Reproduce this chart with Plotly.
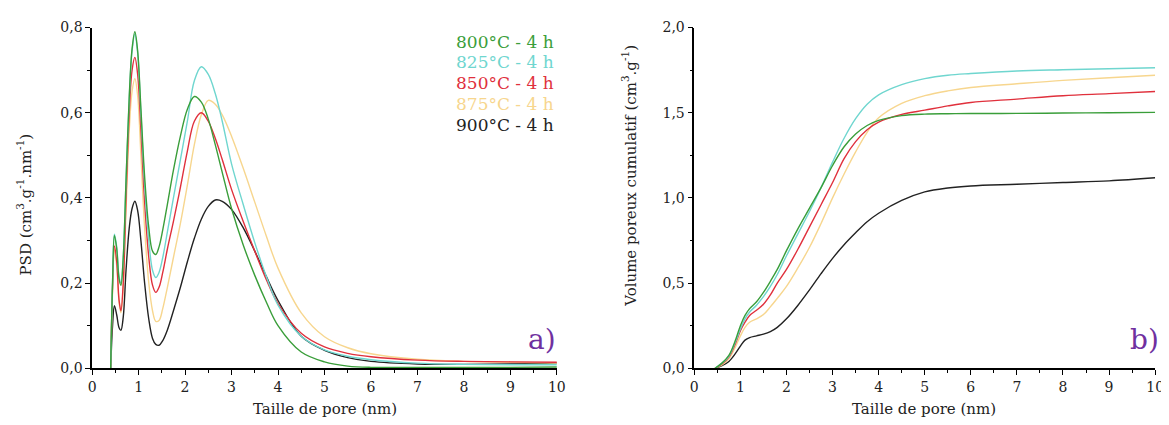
import plotly.graph_objects as go

# ---------- data ----------
series_names = ["800°C - 4 h", "825°C - 4 h", "850°C - 4 h", "875°C - 4 h", "900°C - 4 h"]
series_colors = ["#3a9e3a", "#6fd6cf", "#e0303c", "#f7d68e", "#222222"]

psd_x = [0.40, 0.44, 0.48, 0.53, 0.58, 0.62, 0.67, 0.73, 0.80, 0.86, 0.92, 0.98, 1.05, 1.13,
         1.22, 1.30, 1.37, 1.44, 1.52, 1.62, 1.75, 1.90, 2.05, 2.20, 2.35, 2.50, 2.65, 2.80,
         3.00, 3.25, 3.50, 3.75, 4.00, 4.50, 5.00, 5.50, 6.00, 7.00, 8.00, 9.00, 10.0]

psd_800 = [0, 0.20, 0.312, 0.28, 0.21, 0.195, 0.26, 0.44, 0.64, 0.75, 0.79, 0.745, 0.61, 0.45,
           0.33, 0.275, 0.267, 0.285, 0.325, 0.385, 0.465, 0.545, 0.608, 0.638, 0.625, 0.585, 0.525, 0.46,
           0.375, 0.29, 0.218, 0.155, 0.10, 0.038, 0.015, 0.005, 0.002, 0.002, 0.002, 0.002, 0.003]
psd_825 = [0, 0.20, 0.315, 0.285, 0.215, 0.20, 0.26, 0.44, 0.635, 0.745, 0.785, 0.74, 0.60, 0.43,
           0.30, 0.23, 0.213, 0.225, 0.26, 0.32, 0.40, 0.49, 0.58, 0.675, 0.708, 0.69, 0.645, 0.58,
           0.48, 0.385, 0.295, 0.215, 0.148, 0.075, 0.043, 0.028, 0.020, 0.012, 0.009, 0.008, 0.008]
psd_850 = [0, 0.19, 0.287, 0.25, 0.16, 0.135, 0.20, 0.40, 0.60, 0.70, 0.73, 0.69, 0.56, 0.39,
           0.26, 0.195, 0.178, 0.19, 0.225, 0.28, 0.345, 0.425, 0.51, 0.58, 0.60, 0.58, 0.54, 0.49,
           0.42, 0.345, 0.275, 0.208, 0.152, 0.082, 0.050, 0.035, 0.027, 0.019, 0.016, 0.015, 0.014]
psd_875 = [0, 0.18, 0.28, 0.24, 0.155, 0.13, 0.19, 0.37, 0.56, 0.65, 0.68, 0.64, 0.50, 0.33,
           0.20, 0.135, 0.11, 0.112, 0.14, 0.19, 0.26, 0.34, 0.43, 0.525, 0.595, 0.629, 0.62, 0.595,
           0.545, 0.47, 0.39, 0.31, 0.235, 0.13, 0.074, 0.048, 0.034, 0.021, 0.016, 0.014, 0.012]
psd_900 = [0, 0.10, 0.147, 0.125, 0.095, 0.089, 0.12, 0.23, 0.33, 0.375, 0.392, 0.37, 0.30, 0.20,
           0.115, 0.07, 0.056, 0.054, 0.065, 0.09, 0.135, 0.19, 0.25, 0.305, 0.35, 0.38, 0.395, 0.392,
           0.373, 0.33, 0.275, 0.215, 0.159, 0.075, 0.042, 0.025, 0.016, 0.010, 0.009, 0.010, 0.012]

cum_x = [0.45, 0.6, 0.75, 0.9, 1.0, 1.1, 1.2, 1.35, 1.5, 1.65, 1.8, 2.0, 2.25, 2.5, 2.75, 3.0,
         3.25, 3.5, 3.75, 4.0, 4.5, 5.0, 5.5, 6.0, 7.0, 8.0, 9.0, 10.0]

cum_800 = [0, 0.03, 0.075, 0.17, 0.25, 0.31, 0.35, 0.39, 0.445, 0.51, 0.58, 0.69, 0.82, 0.94, 1.06, 1.19,
           1.30, 1.375, 1.425, 1.455, 1.483, 1.492, 1.494, 1.495, 1.496, 1.498, 1.50, 1.502]
cum_825 = [0, 0.03, 0.07, 0.16, 0.23, 0.29, 0.33, 0.37, 0.42, 0.48, 0.55, 0.66, 0.79, 0.92, 1.06, 1.21,
           1.35, 1.465, 1.55, 1.605, 1.665, 1.70, 1.72, 1.73, 1.745, 1.752, 1.758, 1.764]
cum_850 = [0, 0.025, 0.065, 0.15, 0.22, 0.27, 0.31, 0.34, 0.375, 0.43, 0.50, 0.58, 0.70, 0.83, 0.96, 1.09,
           1.23, 1.33, 1.40, 1.445, 1.49, 1.515, 1.54, 1.56, 1.58, 1.60, 1.612, 1.625]
cum_875 = [0, 0.02, 0.055, 0.13, 0.19, 0.24, 0.27, 0.29, 0.315, 0.36, 0.41, 0.48, 0.59, 0.71, 0.85, 1.00,
           1.14, 1.27, 1.385, 1.47, 1.555, 1.60, 1.628, 1.648, 1.67, 1.69, 1.705, 1.72]
cum_900 = [0, 0.015, 0.04, 0.09, 0.13, 0.165, 0.18, 0.19, 0.20, 0.215, 0.24, 0.29, 0.37, 0.46, 0.555, 0.645,
           0.725, 0.795, 0.86, 0.91, 0.985, 1.035, 1.058, 1.07, 1.08, 1.09, 1.10, 1.118]

psd_series = [psd_800, psd_825, psd_850, psd_875, psd_900]
cum_series = [cum_800, cum_825, cum_850, cum_875, cum_900]

x_title = "Taille de pore (nm)"
y1_title = "PSD (cm<sup>3</sup>.g<sup>-1</sup>.nm<sup>-1</sup>)"
y2_title = "Volume poreux cumulatif (cm<sup>3</sup>.g<sup>-1</sup>)"
panel_labels = ["a)", "b)"]

# ---------- figure ----------
FONT = "DejaVu Serif"
W, H = 1169, 425
fig = go.Figure()

draw_order = [4, 3, 2, 1, 0]
for i in draw_order:
    fig.add_trace(go.Scatter(x=psd_x, y=psd_series[i], mode="lines", name=series_names[i],
                             line=dict(color=series_colors[i], width=1.4, shape="spline", smoothing=1.0),
                             xaxis="x", yaxis="y", showlegend=False))
for i in draw_order:
    fig.add_trace(go.Scatter(x=cum_x, y=cum_series[i], mode="lines", name=series_names[i],
                             line=dict(color=series_colors[i], width=1.4, shape="spline", smoothing=1.0),
                             xaxis="x2", yaxis="y2", showlegend=False))

def px_x(p):
    return p / W

def px_y(p):
    return (H - p) / H

y_dom = [px_y(366), px_y(12)]
common_axis = dict(showline=True, linecolor="black", linewidth=1.5, ticks="outside", ticklen=5,
                   tickwidth=1, tickcolor="black", showgrid=False, zeroline=False,
                   tickfont=dict(family=FONT, size=14, color="#222"))

fig.update_layout(
    width=W, height=H, margin=dict(l=0, r=0, t=0, b=0),
    paper_bgcolor="white", plot_bgcolor="white", separators=",.",
    xaxis=dict(domain=[px_x(81), px_x(551)], range=[0, 10], dtick=1, anchor="y",
               minor=dict(ticks="outside", ticklen=3, dtick=0.5, tickcolor="black"), **common_axis),
    yaxis=dict(domain=y_dom, range=[0, 0.8], dtick=0.2, tickformat=".1f", anchor="x",
               minor=dict(ticks="outside", ticklen=3, dtick=0.1, tickcolor="black"), **common_axis),
    xaxis2=dict(domain=[px_x(690), px_x(1156)], range=[0, 10], dtick=1, anchor="y2",
                minor=dict(ticks="outside", ticklen=3, dtick=0.5, tickcolor="black"), **common_axis),
    yaxis2=dict(domain=y_dom, range=[0, 2.0], dtick=0.5, tickformat=".1f", anchor="x2",
                minor=dict(ticks="outside", ticklen=3, dtick=0.25, tickcolor="black"), **common_axis),
)

ann = []
TF = dict(family=FONT, size=15, color="#222")
def note(text, xp, yp, font, angle=0, xa="center"):
    ann.append(dict(text=text, x=px_x(xp), y=px_y(yp), xref="paper", yref="paper", showarrow=False,
                    xanchor=xa, yanchor="middle", textangle=angle, font=font))

note(x_title, 317, 408, TF)
note(x_title, 922, 408, TF)
note(y1_title, 12, 196, TF, angle=-90)
note(y2_title, 624, 166, TF, angle=-90)
legend_y = [27, 48, 70, 91, 113]
for i in range(5):
    note(series_names[i], 550, legend_y[i], dict(family=FONT, size=17, color=series_colors[i]), xa="right")
note(panel_labels[0], 552, 336, dict(family=FONT, size=28, color="#7030a0"), xa="right")
note(panel_labels[1], 1162, 336, dict(family=FONT, size=28, color="#7030a0"), xa="right")
fig.update_layout(annotations=ann)

fig.write_html("out.html")
